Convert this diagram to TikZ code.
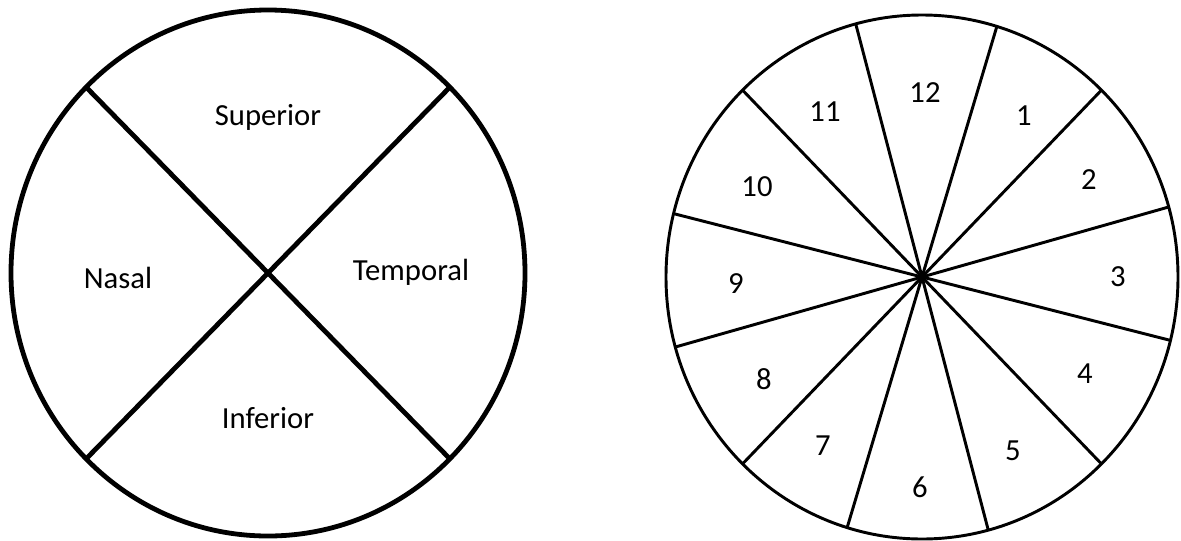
\documentclass[tikz,border=0pt]{standalone}
\usepackage{fontspec}
\setmainfont{Carlito}
\begin{document}
\begin{tikzpicture}[x=0.75pt,y=-0.75pt,
    lbl/.style={font=\fontsize{23}{27}\selectfont, inner sep=0pt},
    rimthick/.style={line width=3.6pt},
    rimthin/.style={line width=2.2pt}]
    \useasboundingbox (0,0) rectangle (1181,540);

    % Left disc: four quadrants
    \draw[rimthick] (268,273) ellipse [x radius=257, y radius=263];
    \draw[rimthick] (86,87) -- (450,459);
    \draw[rimthick] (450,87) -- (86,459);
    \node[lbl] (sup) at (268,117) {Superior};
    \node[lbl] (nas) at (118,278) {Nasal};
    \node[lbl] (tem) at (411,272) {Temporal};
    \node[lbl] (inf) at (268,418) {Inferior};

    % Right disc: twelve clock hours
    \coordinate (hub) at (922,277);
    \draw[rimthin] (hub) ellipse [x radius=256, y radius=262];
    \foreach \a in {105,73,45.5,15.5,-14,-45.5} {
      \draw[rimthin] ({922+256*cos(\a)},{277-262*sin(\a)}) -- (hub)
        -- ({922-256*cos(\a)},{277+262*sin(\a)});
    }
    % Hour numbers
    \foreach \n/\x/\y in {12/925/93, 1/1024/116, 2/1089/180, 3/1118/277,
        4/1085/374, 5/1013/451, 6/920/487, 7/823/446, 8/764/379,
        9/736/284, 10/757/187, 11/825/112} {
      \node[lbl] (hr\n) at (\x,\y) {\n};
    }
\end{tikzpicture}
\end{document}
